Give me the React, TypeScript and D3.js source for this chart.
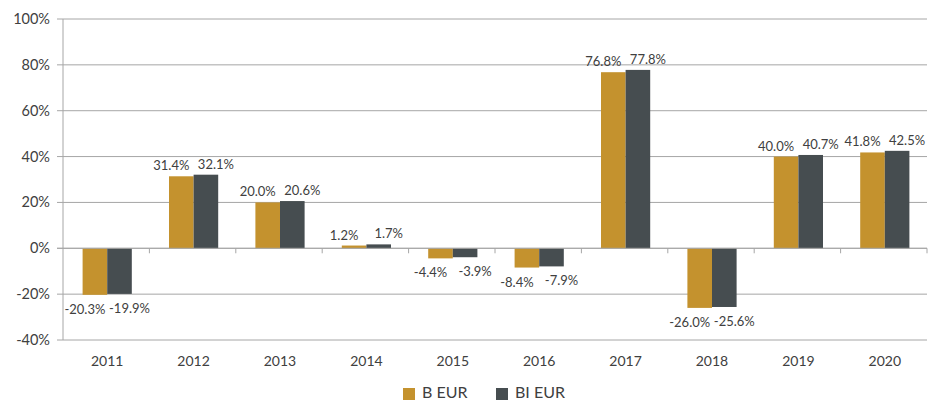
import React from "react";
import * as d3 from "d3";

const years = ["2011", "2012", "2013", "2014", "2015", "2016", "2017", "2018", "2019", "2020"];
const seriesNames = ["B EUR", "BI EUR"];
const bEur = [-20.3, 31.4, 20.0, 1.2, -4.4, -8.4, 76.8, -26.0, 40.0, 41.8];
const biEur = [-19.9, 32.1, 20.6, 1.7, -3.9, -7.9, 77.8, -25.6, 40.7, 42.5];
const yTicks = [-40, -20, 0, 20, 40, 60, 80, 100];
const colors = ["#C4922E", "#464D50"];

const W = 928;
const H = 402;
const left = 63;
const right = 927;
const top = 19;
const bottom = 340;
const font = "Lato, 'Open Sans', sans-serif";
const textColor = "#404040";
const gridColor = "#a6a6a6";

export default function App() {
  const x = d3.scaleBand<string>().domain(years).range([left, right]).paddingInner(0).paddingOuter(0);
  const bw = 24.6;
  const y = d3.scaleLinear().domain([-40, 100]).range([bottom, top]);
  const y0 = y(0);
  const series = [bEur, biEur];
  const labelOffsets = [-10, 10];

  return (
    <svg width={W} height={H} style={{ position: "absolute", left: 0, top: 0, background: "#fff" }}>
      {yTicks.map((t) => (
        <g key={t}>
          <line x1={left - 6} x2={right} y1={y(t)} y2={y(t)} stroke={gridColor} strokeWidth={1} />
          <text x={50} y={y(t) + 5} textAnchor="end" fontFamily={font} fontSize={14.5} fill={textColor}>
            {`${t}%`}
          </text>
        </g>
      ))}
      <line x1={left} x2={left} y1={top} y2={bottom} stroke={gridColor} strokeWidth={1} />
      {years.map((yr, i) => {
        const cx = (x(yr) as number) + x.bandwidth() / 2 + 1;
        return (
          <g key={yr}>
            <line x1={(x(yr) as number) + x.bandwidth()} x2={(x(yr) as number) + x.bandwidth()} y1={y0} y2={y0 + 5} stroke={gridColor} />
            <text x={cx} y={366} textAnchor="middle" fontFamily={font} fontSize={14} fill={textColor}>
              {yr}
            </text>
            {series.map((s, k) => {
              const v = s[i];
              const bx = cx - bw + k * bw;
              const yv = y(v);
              const by = Math.min(yv, y0);
              const bh = Math.abs(yv - y0);
              const lx = bx + bw / 2 + labelOffsets[k];
              const ly = v >= 0 ? yv - 6 : yv + 19;
              return (
                <g key={k}>
                  <rect x={bx} y={by} width={bw} height={bh} fill={colors[k]} />
                  <text x={lx} y={ly} textAnchor="middle" fontFamily={font} fontSize={13} fill={textColor}>
                    {`${v.toFixed(1)}%`}
                  </text>
                </g>
              );
            })}
          </g>
        );
      })}
      <line x1={left - 6} x2={right} y1={y0} y2={y0} stroke={gridColor} strokeWidth={1} />
      {seriesNames.map((n, k) => {
        const lx = k === 0 ? 403 : 496;
        return (
          <g key={n}>
            <rect x={lx} y={388} width={12} height={12} fill={colors[k]} />
            <text x={lx + 19} y={398} fontFamily={font} fontSize={16} fill={textColor}>
              {n}
            </text>
          </g>
        );
      })}
    </svg>
  );
}
